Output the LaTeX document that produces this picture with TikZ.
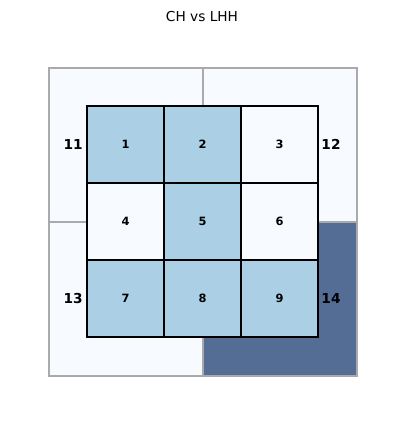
\documentclass[tikz,border=0pt]{standalone}
\usepackage{fontspec}
\setmainfont{DejaVu Sans}
\definecolor{cellblue}{RGB}{171,208,230}
\definecolor{cellwhite}{RGB}{247,251,255}
\definecolor{quaddark}{RGB}{83,109,148}
\definecolor{quadedge}{RGB}{170,170,170}
\tikzset{
  quad/.style={fill=cellwhite, draw=quadedge, line width=1.2pt},
  cell/.style={draw=black, line width=1.3pt},
  celllabel/.style={font=\fontsize{11.4}{13}\selectfont\bfseries},
  quadlabel/.style={font=\fontsize{13.7}{16}\selectfont\bfseries},
}
\begin{document}
\begin{tikzpicture}[x=1pt,y=-1pt]
\useasboundingbox (0,0) rectangle (404,424);
\node (title) at (202,17) {\fontsize{13.7}{16}\selectfont CH vs LHH};
% outer quadrants
\draw [quad] (49,68) rectangle (203,222);
\draw [quad] (203,68) rectangle (357,222);
\draw [quad] (49,222) rectangle (203,376);
\draw [quad, fill=quaddark] (203,222) rectangle (357,376);
% inner grid
\draw [cell, fill=cellblue] (87,106) rectangle (164,183);
\draw [cell, fill=cellblue] (164,106) rectangle (241,183);
\draw [cell, fill=cellwhite] (241,106) rectangle (318,183);
\draw [cell, fill=cellwhite] (87,183) rectangle (164,260);
\draw [cell, fill=cellblue] (164,183) rectangle (241,260);
\draw [cell, fill=cellwhite] (241,183) rectangle (318,260);
\draw [cell, fill=cellblue] (87,260) rectangle (164,337);
\draw [cell, fill=cellblue] (164,260) rectangle (241,337);
\draw [cell, fill=cellblue] (241,260) rectangle (318,337);
\node [celllabel] (c1) at (125.5,144.5) {1};
\node [celllabel] (c2) at (202.5,144.5) {2};
\node [celllabel] (c3) at (279.5,144.5) {3};
\node [celllabel] (c4) at (125.5,221.5) {4};
\node [celllabel] (c5) at (202.5,221.5) {5};
\node [celllabel] (c6) at (279.5,221.5) {6};
\node [celllabel] (c7) at (125.5,298.5) {7};
\node [celllabel] (c8) at (202.5,298.5) {8};
\node [celllabel] (c9) at (279.5,298.5) {9};
% quadrant labels
\node [quadlabel] (q11) at (73.2,144.5) {11};
\node [quadlabel] (q12) at (331,144.5) {12};
\node [quadlabel] (q13) at (73.2,298.5) {13};
\node [quadlabel] (q14) at (331,298.5) {14};
\end{tikzpicture}
\end{document}
